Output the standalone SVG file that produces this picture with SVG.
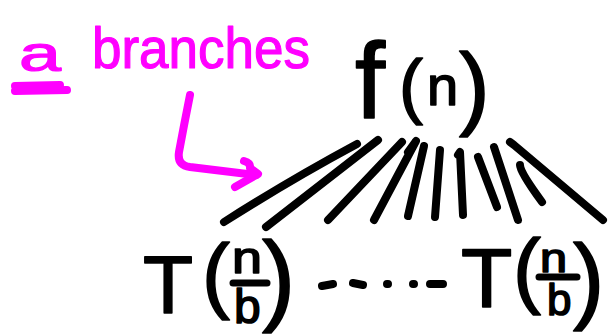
<svg xmlns="http://www.w3.org/2000/svg" width="608" height="336" viewBox="0 0 608 336">
  <style>
    .ink { fill: #000; stroke: #000; stroke-width: 1.6; stroke-linejoin: round; font-family: "Liberation Sans", Arial, sans-serif; }
    .pink { fill: #ff00ff; stroke: #ff00ff; stroke-width: 1.2; stroke-linejoin: round; font-family: "Liberation Sans", Arial, sans-serif; }
    .stroke { fill: none; stroke: #000; stroke-width: 8; stroke-linecap: round; stroke-linejoin: round; }
    .pstroke { fill: none; stroke: #ff00ff; stroke-width: 8; stroke-linecap: round; stroke-linejoin: round; }
    .bar { stroke: #000; stroke-width: 7; stroke-linecap: round; }
  </style>
  <rect width="608" height="336" fill="#fff"/>

  <!-- annotation: number of branches -->
  <g id="label-a-branches">
    <text class="pink" x="19" y="71" font-size="50" textLength="42" lengthAdjust="spacingAndGlyphs">a</text>
    <path class="pstroke" d="M15,86 L60,85 M15,91 L67,90" stroke-width="6"/>
    <text class="pink" x="92" y="68" font-size="58" textLength="218" lengthAdjust="spacingAndGlyphs">branches</text>
  </g>

  <!-- pointer from the annotation to the branches -->
  <g id="pointer-arrow">
    <path class="pstroke" d="M190,95 Q184,125 179,152 Q177,165 190,167 L256,175"/>
    <path class="pstroke" d="M244,161 Q251,163 250,168 L258,174 L235,187"/>
  </g>

  <!-- root cost f(n) -->
  <g id="node-root">
    <text class="ink" x="355" y="118" font-size="108">f</text>
    <text class="ink" x="399" y="110" font-size="72">(</text>
    <text class="ink" x="427" y="105" font-size="56">n</text>
    <text class="ink" x="459" y="118" font-size="92">)</text>
  </g>

  <!-- branch strokes from f(n) to the subproblems -->
  <g id="connectors">
    <path class="stroke" d="M357,144 Q290,180 224,222"/>
    <path class="stroke" d="M378,140 L266,227"/>
    <path class="stroke" d="M402,142 L328,220"/>
    <path class="stroke" d="M408,152 L416,141 L374,220"/>
    <path class="stroke" d="M424,146 L408,216"/>
    <path class="stroke" d="M440,150 L435,217"/>
    <path class="stroke" d="M458,155 L460,152 L463,215"/>
    <path class="stroke" d="M478,157 L497,207"/>
    <path class="stroke" d="M494,147 L518,220"/>
    <path class="stroke" d="M510,142 L514,145 L603,220"/>
    <path class="stroke" d="M520,165 Q520,172 542,202"/>
  </g>

  <!-- left subproblem T(n/b) -->
  <g id="node-left">
    <text class="ink" x="143" y="313" font-size="82">T</text>
    <text class="ink" x="202" y="303" font-size="84">(</text>
    <text class="ink" x="232" y="273" font-size="44" textLength="30" lengthAdjust="spacingAndGlyphs">n</text>
    <line class="bar" x1="233" y1="283" x2="267" y2="283"/>
    <text class="ink" x="234" y="323" font-size="48">b</text>
    <text class="ink" x="262" y="312" font-size="100">)</text>
  </g>

  <!-- ellipsis between the subproblems -->
  <g id="ellipsis">
    <path class="stroke" stroke-width="7" d="M322,286 L333,284 M353,283 L363,285 M387,284 L388,284 M413,284 L414,284 M430,284 L443,284"/>
  </g>

  <!-- right subproblem T(n/b) -->
  <g id="node-right">
    <text class="ink" x="461" y="307" font-size="84">T</text>
    <text class="ink" x="513" y="298" font-size="84">(</text>
    <text class="ink" x="540" y="272" font-size="40" textLength="27" lengthAdjust="spacingAndGlyphs">n</text>
    <line class="bar" x1="539" y1="277" x2="577" y2="277"/>
    <text class="ink" x="547" y="315" font-size="44">b</text>
    <text class="ink" x="573" y="311" font-size="94">)</text>
  </g>
</svg>
